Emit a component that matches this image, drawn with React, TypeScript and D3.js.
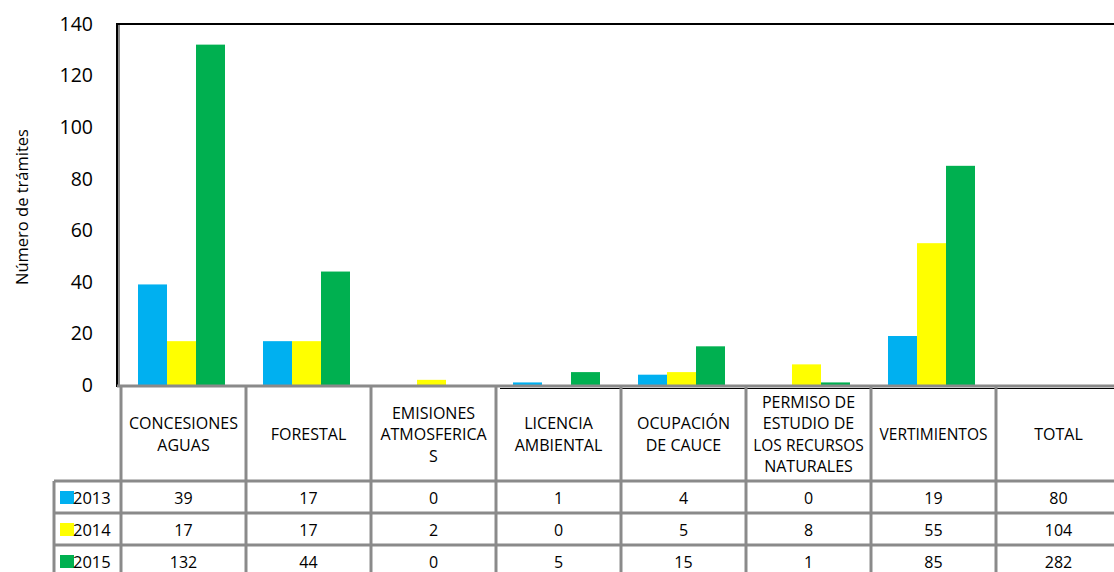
import React from "react";
import * as d3 from "d3";

const categories = [
  "CONCESIONES AGUAS",
  "FORESTAL",
  "EMISIONES ATMOSFERICAS",
  "LICENCIA AMBIENTAL",
  "OCUPACIÓN DE CAUCE",
  "PERMISO DE ESTUDIO DE LOS RECURSOS NATURALES",
  "VERTIMIENTOS",
  "TOTAL",
];
const headerLines = [
  ["CONCESIONES", "AGUAS"],
  ["FORESTAL"],
  ["EMISIONES", "ATMOSFERICA", "S"],
  ["LICENCIA", "AMBIENTAL"],
  ["OCUPACIÓN", "DE CAUCE"],
  ["PERMISO DE", "ESTUDIO DE", "LOS RECURSOS", "NATURALES"],
  ["VERTIMIENTOS"],
  ["TOTAL"],
];
const years = ["2013", "2014", "2015"];
const values2013 = [39, 17, 0, 1, 4, 0, 19, 80];
const values2014 = [17, 17, 2, 0, 5, 8, 55, 104];
const values2015 = [132, 44, 0, 5, 15, 1, 85, 282];
const seriesValues = [values2013, values2014, values2015];
const colors = ["#00B0F0", "#FFFF00", "#00B050"];
const yTicks = [0, 20, 40, 60, 80, 100, 120, 140];
const yTitle = "Número de trámites";
const barCount = 7; // TOTAL column has no bars

const W = 1114;
const H = 572;
const FONT = "'Open Sans', sans-serif";
const GRAY = "#8a8a8a";

export default function App() {
  const x = d3.scaleBand<string>().domain(categories).range([121, 1121]).paddingInner(0).paddingOuter(0);
  const bw = x.bandwidth();
  const xs = d3.scaleBand<string>().domain(years).range([17, bw - 21]).padding(0);
  const y = d3.scaleLinear().domain([0, 140]).range([385, 24]);

  const headerTop = 388;
  const headerBottom = 481;
  const rowH = 32;
  const rowTops = years.map((_, i) => headerBottom + i * rowH);

  return (
    <svg width={W} height={H} style={{ position: "absolute", left: 0, top: 0, background: "#fff" }} fontFamily={FONT}>
      {/* bars */}
      {categories.slice(0, barCount).map((c, ci) =>
        years.map((yr, si) => {
          const v = seriesValues[si][ci];
          if (v <= 0) return null;
          return (
            <rect
              key={c + yr}
              x={(x(c) as number) + (xs(yr) as number)}
              y={y(v)}
              width={xs.bandwidth()}
              height={y(0) - y(v)}
              fill={colors[si]}
            />
          );
        })
      )}
      {/* frame */}
      <line x1={117} x2={W} y1={24} y2={24} stroke="#000" strokeWidth={2} />
      <line x1={117} x2={117} y1={23} y2={387} stroke="#000" strokeWidth={2} />
      <line x1={119} x2={119} y1={25} y2={387} stroke={GRAY} strokeWidth={2} />
      <line x1={117} x2={W} y1={386} y2={386} stroke={GRAY} strokeWidth={3} />
      <line x1={500} x2={W} y1={388.5} y2={388.5} stroke="#000" strokeWidth={1} />
      {/* y ticks */}
      {yTicks.map((t) => (
        <text key={t} x={93} y={y(t)} dy="0.35em" textAnchor="end" fontSize={19.5} fill="#000">
          {t}
        </text>
      ))}
      <text
        transform={`translate(24,${207}) rotate(-90)`}
        textAnchor="middle"
        dominantBaseline="middle"
        fontSize={16.5}
        fill="#000"
      >
        {yTitle}
      </text>
      {/* table grid */}
      {categories.map((c) => (
        <line key={"v" + c} x1={x(c) as number} x2={x(c) as number} y1={386} y2={H} stroke={GRAY} strokeWidth={3} />
      ))}
      <line x1={1121} x2={1121} y1={386} y2={H} stroke={GRAY} strokeWidth={3} />
      <line x1={54} x2={54} y1={headerBottom} y2={H} stroke={GRAY} strokeWidth={3} />
      {rowTops.map((t, i) => (
        <line key={"h" + i} x1={54} x2={W} y1={t} y2={t} stroke={GRAY} strokeWidth={3} />
      ))}
      {/* header labels */}
      {headerLines.map((lines, ci) => {
        const cx = (x(categories[ci]) as number) + bw / 2;
        const lh = 21.5;
        const cy = (headerTop + headerBottom) / 2;
        const start = cy - ((lines.length - 1) * lh) / 2;
        return lines.map((ln, li) => (
          <text
            key={ci + "-" + li}
            x={cx}
            y={start + li * lh}
            dy="0.35em"
            textAnchor="middle"
            fontSize={ln.length > 11 ? 15.5 : 16}
            fill="#000"
          >
            {ln}
          </text>
        ));
      })}
      {/* rows */}
      {years.map((yr, si) => {
        const cy = rowTops[si] + rowH / 2 + 1;
        return (
          <g key={yr}>
            <rect x={60} y={cy - 7} width={14} height={13} fill={colors[si]} />
            <text x={73} y={cy} dy="0.35em" fontSize={16.5} fill="#000">
              {yr}
            </text>
            {categories.map((c, ci) => (
              <text
                key={c}
                x={(x(c) as number) + bw / 2}
                y={cy}
                dy="0.35em"
                textAnchor="middle"
                fontSize={16}
                fill="#000"
              >
                {seriesValues[si][ci]}
              </text>
            ))}
          </g>
        );
      })}
    </svg>
  );
}
